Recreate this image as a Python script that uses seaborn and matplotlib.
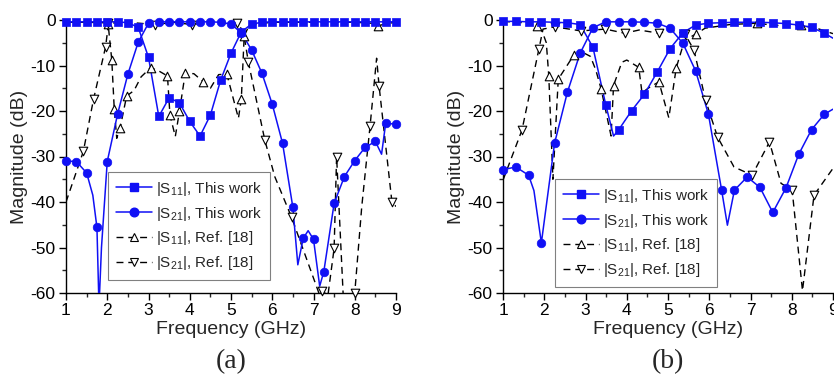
import numpy as np
import pandas as pd
import matplotlib
matplotlib.use("Agg")
import matplotlib.pyplot as plt
import seaborn as sns
from matplotlib.lines import Line2D
from matplotlib.ticker import MultipleLocator

sns.set_theme(style="ticks")
plt.rcParams['font.family'] = ['Liberation Sans', 'DejaVu Sans']
plt.rcParams['mathtext.fontset'] = 'custom'
plt.rcParams['mathtext.rm'] = 'Liberation Sans'
plt.rcParams['mathtext.it'] = 'Liberation Sans:italic'
plt.rcParams['mathtext.default'] = 'regular'
plt.rcParams['axes.unicode_minus'] = False

# ---------------- Panel (a) ----------------
a_grid = [1.0, 1.25, 1.5, 1.75, 2.0, 2.25, 2.5, 2.75, 3.0, 3.25, 3.5, 3.75, 4.0, 4.25, 4.5,
          4.75, 5.0, 5.25, 5.5, 5.75, 6.0, 6.25, 6.5, 6.75, 7.0, 7.25, 7.5, 7.75, 8.0, 8.25,
          8.5, 8.75, 9.0]
a_s11_db = [-0.4, -0.4, -0.4, -0.4, -0.4, -0.4, -0.6, -1.6, -8.2, -21.2, -17.1, -18.2, -22.3,
            -25.5, -20.9, -13.2, -7.3, -2.6, -0.9, -0.5, -0.4, -0.4, -0.4, -0.4, -0.4, -0.4,
            -0.4, -0.4, -0.4, -0.4, -0.4, -0.4, -0.4]
a_s11_xf = []
a_s11_xdb = []

a_s21_db = [-31.0, -31.1, -33.6, -45.6, -31.1, -20.7, -11.9, -4.9, -0.7, -0.4, -0.4, -0.4,
            -0.4, -0.4, -0.4, -0.5, -0.9, -2.8, -6.6, -11.7, -18.5, -27.1, -41.2, -48.0, -48.2,
            -55.3, -40.3, -34.4, -30.9, -28.0, -26.7, -22.7, -22.9]
a_s21_xf = [1.65, 1.8, 1.86, 6.62, 6.87, 7.15, 8.65]
a_s21_xdb = [-38.5, -63.0, -50.0, -53.8, -46.3, -58.5, -29.5]

a_r11_mf = [2.02, 2.11, 2.17, 2.31, 2.47, 3.05, 3.46, 3.52, 3.75, 3.89, 4.33, 4.9, 5.25, 5.32, 8.57]
a_r11_mdb = [-0.8, -8.8, -19.6, -23.8, -16.7, -10.5, -12.3, -20.9, -20.1, -11.7, -13.6, -11.9,
             -17.4, -3.5, -1.3]
a_r11_xf = [1.0, 1.5, 1.9, 2.23, 2.65, 2.82, 3.25, 3.65, 4.1, 4.5, 4.7, 5.18, 5.45, 6.0, 7.0,
            8.0, 8.4, 8.75, 9.0]
a_r11_xdb = [-0.5, -0.5, -0.6, -26.0, -15.5, -12.5, -11.2, -25.6, -11.8, -15.0, -12.0, -21.6,
             -1.0, -0.5, -0.5, -0.5, -0.7, -0.8, -0.5]

a_r21_mf = [1.42, 1.67, 1.96, 2.03, 3.16, 4.05, 5.15, 5.42, 5.82, 6.47, 7.2, 7.5, 7.56, 8.0,
            8.37, 8.59, 8.9]
a_r21_mdb = [-28.9, -17.3, -5.9, -0.7, -1.0, -1.0, -0.7, -9.2, -26.4, -43.4, -59.5, -50.2,
             -30.0, -60.0, -23.4, -14.5, -39.9]
a_r21_xf = [1.0, 2.5, 3.6, 4.5, 4.9, 5.3, 6.06, 7.15, 7.35, 7.72, 8.17, 8.53, 9.0]
a_r21_xdb = [-40.0, -0.5, -0.5, -0.5, -0.5, -2.5, -34.4, -60.5, -60.5, -60.5, -41.0, -8.4, -41.0]

# ---------------- Panel (b) ----------------
b_grid = [1.0, 1.31, 1.62, 1.93, 2.25, 2.56, 2.87, 3.18, 3.49, 3.80, 4.12, 4.43, 4.74, 5.05,
          5.36, 5.67, 5.98, 6.30, 6.61, 6.92, 7.23, 7.54, 7.86, 8.17, 8.48, 8.79]
b_s11_db = [-0.3, -0.3, -0.4, -0.4, -0.5, -0.6, -1.0, -6.0, -18.6, -24.2, -19.9, -16.3, -11.4,
            -6.3, -2.8, -1.1, -0.7, -0.6, -0.5, -0.5, -0.5, -0.6, -0.8, -1.1, -1.6, -2.9]
b_s11_xf = [3.68, 9.0]
b_s11_xdb = [-25.5, -4.0]

b_s21_db = [-32.9, -32.3, -34.1, -49.0, -27.1, -15.9, -7.3, -1.7, -0.4, -0.4, -0.4, -0.5, -0.7,
            -1.8, -5.1, -11.2, -20.7, -37.4, -37.4, -34.5, -36.8, -42.3, -36.9, -29.5, -24.1,
            -20.7]
b_s21_xf = [1.75, 6.44, 9.0]
b_s21_xdb = [-37.5, -45.1, -19.6]

b_r11_mf = [1.82, 2.11, 2.34, 2.71, 3.38, 3.68, 4.29, 4.78, 5.2, 5.67, 7.16, 8.22]
b_r11_mdb = [-1.3, -12.3, -13.0, -7.8, -15.2, -14.4, -10.4, -13.6, -10.5, -3.1, -0.7, -1.2]
b_r11_xf = [1.0, 1.5, 1.95, 2.05, 2.21, 2.95, 3.12, 3.25, 3.62, 3.88, 4.0, 4.37, 4.55, 5.02,
            5.4, 5.9, 6.5, 7.6, 8.6, 9.0]
b_r11_xdb = [-0.3, -0.6, -2.5, -5.0, -35.0, -7.2, -8.0, -11.0, -25.5, -9.3, -8.8, -16.0, -14.8,
             -21.5, -4.5, -1.8, -1.0, -1.2, -1.8, -3.0]

b_r21_mf = [1.46, 1.87, 2.25, 2.89, 3.48, 3.95, 4.78, 5.41, 5.63, 5.91, 6.2, 7.04, 7.46, 8.01, 8.54]
b_r21_mdb = [-24.2, -6.4, -1.5, -2.4, -2.0, -2.9, -2.9, -3.1, -6.6, -17.6, -25.7, -34.1, -26.8,
             -37.4, -38.5]
b_r21_xf = [1.0, 1.97, 4.3, 5.1, 6.6, 7.74, 8.26, 9.0]
b_r21_xdb = [-35.2, -2.0, -2.2, -2.3, -32.3, -35.9, -59.5, -32.6]

legend_labels = [r'|S$_{11}$|, This work', r'|S$_{21}$|, This work',
                 r'|S$_{11}$|, Ref. [18]', r'|S$_{21}$|, Ref. [18]']

BLUE = '#1010f5'
DASH = (0, (5, 3.5))


def draw(ax, mf, mdb, xf, xdb, ref, marker):
    f = np.concatenate([np.asarray(mf, float), np.asarray(xf, float)])
    d = np.concatenate([np.asarray(mdb, float), np.asarray(xdb, float)])
    o = np.argsort(f, kind='stable')
    df = pd.DataFrame({'f': f[o], 'db': d[o]})
    if ref:
        sns.lineplot(data=df, x='f', y='db', ax=ax, sort=False, estimator=None,
                     color='black', lw=1.0, linestyle=DASH, zorder=2)
        sns.scatterplot(x=mf, y=mdb, ax=ax, marker=marker, s=38, color='white',
                        edgecolor='black', linewidth=0.8, zorder=4, clip_on=False)
    else:
        sns.lineplot(data=df, x='f', y='db', ax=ax, sort=False, estimator=None,
                     color=BLUE, lw=1.1, zorder=3)
        sns.scatterplot(x=mf, y=mdb, ax=ax, marker=marker, s=(30 if marker == 's' else 38),
                        color=BLUE, edgecolor=BLUE, linewidth=0.5, zorder=5, clip_on=False)


def style_axes(ax):
    ax.set_xlim(1, 9)
    ax.set_ylim(-60, 0)
    ax.set_xticks(range(1, 10))
    ax.set_yticks(range(-60, 1, 10))
    ax.xaxis.set_minor_locator(MultipleLocator(0.5))
    ax.yaxis.set_minor_locator(MultipleLocator(5))
    ax.tick_params(which='major', direction='out', length=5, width=1, labelsize=12.5,
                   pad=2.5, colors='black')
    ax.tick_params(which='minor', direction='out', length=3, width=1)
    for s in ['top', 'right']:
        ax.spines[s].set_visible(False)
    for s in ['left', 'bottom']:
        ax.spines[s].set_color('black')
        ax.spines[s].set_linewidth(1.0)
    ax.set_xlabel('Frequency (GHz)', fontsize=14, labelpad=1.5)
    ax.set_ylabel('Magnitude (dB)', fontsize=14, labelpad=2)
    handles = [
        Line2D([], [], color=BLUE, lw=1.1, marker='s', ms=5.5, mfc=BLUE, mec=BLUE),
        Line2D([], [], color=BLUE, lw=1.1, marker='o', ms=6.2, mfc=BLUE, mec=BLUE),
        Line2D([], [], color='black', lw=1.0, linestyle=DASH, marker='^', ms=6.2,
               mfc='white', mec='black', mew=0.8),
        Line2D([], [], color='black', lw=1.0, linestyle=DASH, marker='v', ms=6.2,
               mfc='white', mec='black', mew=0.8),
    ]
    return handles


fig = plt.figure(figsize=(8.34, 3.78), dpi=100)
ax_a = fig.add_axes([66 / 834, 1 - 293 / 378, 330 / 834, 273 / 378])
ax_b = fig.add_axes([503 / 834, 1 - 293 / 378, 330 / 834, 273 / 378])

draw(ax_a, a_r11_mf, a_r11_mdb, a_r11_xf, a_r11_xdb, True, '^')
draw(ax_a, a_r21_mf, a_r21_mdb, a_r21_xf, a_r21_xdb, True, 'v')
draw(ax_a, a_grid, a_s21_db, a_s21_xf, a_s21_xdb, False, 'o')
draw(ax_a, a_grid, a_s11_db, a_s11_xf, a_s11_xdb, False, 's')

draw(ax_b, b_r11_mf, b_r11_mdb, b_r11_xf, b_r11_xdb, True, '^')
draw(ax_b, b_r21_mf, b_r21_mdb, b_r21_xf, b_r21_xdb, True, 'v')
draw(ax_b, b_grid, b_s21_db, b_s21_xf, b_s21_xdb, False, 'o')
draw(ax_b, b_grid, b_s11_db, b_s11_xf, b_s11_xdb, False, 's')

for ax, anchor, tag, cx in [(ax_a, (0.127, 0.048), '(a)', 231), (ax_b, (0.158, 0.022), '(b)', 668)]:
    h = style_axes(ax)
    leg = ax.legend(h, legend_labels, loc='lower left', bbox_to_anchor=anchor,
                    borderaxespad=0, fontsize=11, handlelength=2.4, handletextpad=0.25,
                    labelspacing=0.45, borderpad=0.5, frameon=True, fancybox=False,
                    edgecolor='#808080', framealpha=1, numpoints=1)
    leg.get_frame().set_linewidth(0.8)
    leg.set_zorder(10)
    fig.text(cx / 834, 1 - 362 / 378, tag, family=['Liberation Serif'], fontsize=20,
             ha='center', va='center')

fig.savefig('out.png', dpi=100)
